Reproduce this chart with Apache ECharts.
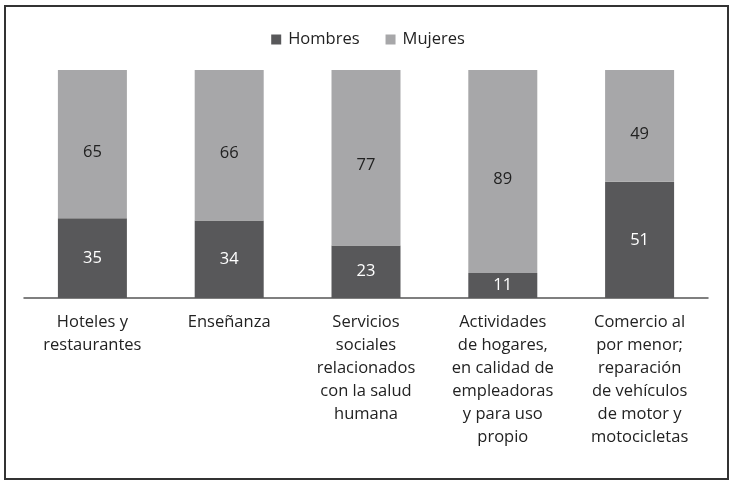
<!DOCTYPE html>
<html>
<head>
<meta charset="utf-8">
<script src="https://cdn.jsdelivr.net/npm/echarts@6/dist/echarts.min.js"></script>
<style>
html,body{margin:0;padding:0;background:#fff;}
#c{width:736px;height:485px;}
</style>
</head>
<body>
<div id="c"></div>
<script>
const categories = [
  "Hoteles y\nrestaurantes",
  "Enseñanza",
  "Servicios\nsociales\nrelacionados\ncon la salud\nhumana",
  "Actividades\nde hogares,\nen calidad de\nempleadoras\ny para uso\npropio",
  "Comercio al\npor menor;\nreparación\nde vehículos\nde motor y\nmotocicletas"
];
const hombres = [35, 34, 23, 11, 51];
const mujeres = [65, 66, 77, 89, 49];

const chart = echarts.init(document.getElementById('c'));
const FONT = 'Open Sans';
chart.setOption({
  animation: false,
  textStyle: { fontFamily: FONT },
  graphic: [{
    type: 'rect',
    shape: { x: 5, y: 6, width: 723, height: 473 },
    style: { fill: 'none', stroke: '#333', lineWidth: 2 },
    silent: true
  }],
  legend: {
    top: 26,
    left: 'center',
    icon: 'rect',
    itemWidth: 10,
    itemHeight: 10,
    itemGap: 26,
    textStyle: { fontFamily: FONT, fontSize: 16.5, color: '#222', padding: [0, 0, 0, 2] },
    data: ['Hombres', 'Mujeres']
  },
  grid: { left: 24, right: 28, top: 70, bottom: 187, containLabel: false },
  xAxis: {
    type: 'category',
    data: categories,
    axisLine: { lineStyle: { color: '#555', width: 1.5 } },
    axisTick: { show: false },
    axisLabel: {
      interval: 0,
      margin: 13,
      color: '#222',
      fontFamily: FONT,
      fontSize: 16.5,
      lineHeight: 23,
      align: 'center'
    }
  },
  yAxis: {
    type: 'value',
    min: 0,
    max: 100,
    show: false,
    splitLine: { show: false }
  },
  series: [
    {
      name: 'Hombres',
      type: 'bar',
      stack: 'total',
      barWidth: 69,
      data: hombres,
      itemStyle: { color: '#58585a' },
      label: { show: true, position: 'inside', color: '#fff', fontFamily: FONT, fontSize: 16.5 }
    },
    {
      name: 'Mujeres',
      type: 'bar',
      stack: 'total',
      barWidth: 69,
      data: mujeres,
      itemStyle: { color: '#a7a7a9' },
      label: { show: true, position: 'inside', offset: [0, 8], color: '#222', fontFamily: FONT, fontSize: 16.5 }
    }
  ]
});
</script>
</body>
</html>
